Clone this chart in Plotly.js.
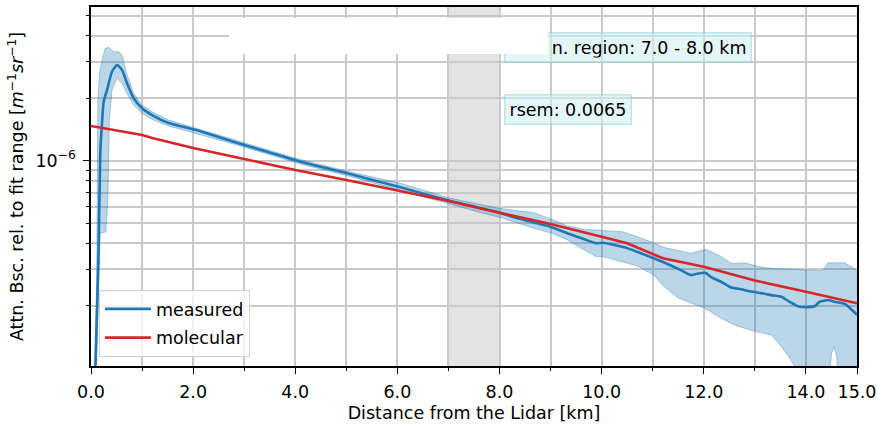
<!DOCTYPE html>
<html>
<head>
<meta charset="utf-8">
<script src="https://cdn.plot.ly/plotly-3.0.1.min.js"></script>
<style>html,body{margin:0;padding:0;background:#fff;}</style>
</head>
<body>
<div id="chart" style="width:878px;height:426px;"></div>
<script>
// ---- data (distance in km, attenuated backscatter in m^-1 sr^-1) ----
const measuredKm = [0.085,0.118,0.149,0.182,0.216,0.247,0.314,0.412,0.51,0.608,0.706,0.835,1.0,1.196,1.52,2.045,2.79,3.45,4.1,5.0,6.06,7.04,7.63,8.0,8.35,8.68,9.02,9.33,9.66,9.89,10.02,10.25,10.51,10.77,11.02,11.2,11.55,11.75,11.92,12.03,12.15,12.34,12.54,12.73,12.93,13.13,13.32,13.52,13.68,13.84,14.04,14.17,14.27,14.43,14.56,14.76,14.89,15.0];
const measured = [9.8e-8,1.91e-7,3.71e-7,1.10e-6,1.52e-6,1.92e-6,2.19e-6,2.69e-6,2.89e-6,2.74e-6,2.36e-6,2.00e-6,1.79e-6,1.66e-6,1.52e-6,1.41e-6,1.235e-6,1.105e-6,9.89e-7,8.72e-7,7.44e-7,6.39e-7,5.90e-7,5.62e-7,5.28e-7,5.03e-7,4.78e-7,4.47e-7,4.18e-7,4.00e-7,4.02e-7,3.92e-7,3.78e-7,3.58e-7,3.39e-7,3.25e-7,2.97e-7,2.81e-7,2.87e-7,2.88e-7,2.74e-7,2.61e-7,2.45e-7,2.40e-7,2.34e-7,2.30e-7,2.25e-7,2.21e-7,2.09e-7,1.99e-7,1.97e-7,1.99e-7,2.09e-7,2.13e-7,2.09e-7,2.04e-7,1.92e-7,1.81e-7];

const upperKm = [0.07,0.11,0.135,0.17,0.216,0.28,0.345,0.443,0.54,0.608,0.706,0.835,1.0,1.196,1.52,2.045,2.79,3.45,4.1,5.0,6.06,7.04,7.63,8.0,8.35,8.68,9.02,9.33,9.66,10.02,10.4,10.7,11.02,11.2,11.75,12.03,12.15,12.34,12.54,12.8,13.09,13.32,13.68,14.0,14.33,14.43,14.76,14.89,15.0];
const upper = [9.8e-8,2.6e-7,2.0e-6,2.7e-6,3.06e-6,3.48e-6,3.52e-6,3.35e-6,3.35e-6,3.23e-6,2.59e-6,2.11e-6,1.855e-6,1.72e-6,1.57e-6,1.44e-6,1.265e-6,1.13e-6,1.013e-6,8.92e-7,7.78e-7,6.59e-7,6.18e-7,5.90e-7,5.74e-7,5.62e-7,5.22e-7,4.85e-7,4.67e-7,4.63e-7,4.55e-7,4.30e-7,4.02e-7,3.83e-7,3.58e-7,3.74e-7,3.64e-7,3.45e-7,3.20e-7,3.22e-7,3.08e-7,3.03e-7,3.00e-7,2.97e-7,2.95e-7,3.22e-7,3.22e-7,3.08e-7,2.97e-7];

const lowerKm = [0.10,0.15,0.18,0.29,0.33,0.36,0.412,0.51,0.608,0.706,0.835,1.0,1.196,1.52,2.045,2.79,3.45,4.1,5.0,6.06,7.04,7.63,8.0,8.35,8.68,9.02,9.33,9.6,9.89,10.02,10.4,10.7,11.02,11.2,11.5,12.03,12.34,12.6,12.9,13.32,13.52,13.7,13.84,14.0,14.45,14.5,14.55,14.6,14.66,15.0];
const lower = [9e-8,2.13e-7,4.48e-7,4.53e-7,6.46e-7,1.57e-6,2.19e-6,2.50e-6,2.36e-6,2.11e-6,1.855e-6,1.69e-6,1.58e-6,1.47e-6,1.355e-6,1.204e-6,1.077e-6,9.64e-7,8.49e-7,7.17e-7,6.18e-7,5.62e-7,5.34e-7,4.99e-7,4.72e-7,4.47e-7,4.15e-7,3.78e-7,3.45e-7,3.45e-7,3.26e-7,3.11e-7,2.81e-7,2.50e-7,2.18e-7,1.94e-7,1.74e-7,1.615e-7,1.53e-7,1.445e-7,1.27e-7,1.10e-7,9.6e-8,8e-8,8e-8,1.18e-7,1.27e-7,1.14e-7,8e-8,8e-8];

const molecularKm = [0,1.0,1.2,2,3,4,5,6,7,8,9,10,10.5,11,11.2,12,13,14,15];
const molecular = [1.469e-6,1.33e-6,1.286e-6,1.151e-6,1.019e-6,9.02e-7,8.07e-7,7.18e-7,6.39e-7,5.615e-7,4.95e-7,4.30e-7,4.00e-7,3.55e-7,3.385e-7,3.084e-7,2.647e-7,2.337e-7,2.055e-7];

const normRegion = [7.0, 8.0];
const xTickVals = [0,2,4,6,8,10,12,14,15];
const xTickText = ['0.0','2.0','4.0','6.0','8.0','10.0','12.0','14.0','15.0'];
const xMinorVals = [1,3,5,7,9,11,13];
const yTickVals = [1e-6];
const yTickText = ['10<sup>\u22126</sup>'];
const yMinorVals = [2e-7,3e-7,4e-7,5e-7,6e-7,7e-7,8e-7,9e-7,2e-6,3e-6,4e-6,5e-6];
const normText = 'n. region: ' + normRegion[0].toFixed(1) + ' - ' + normRegion[1].toFixed(1) + ' km';
const rsemText = 'rsem: 0.0065';

const BLUE = '#1f77b4', RED = '#d62728';
const bandLine = 'rgba(31,119,180,0.35)';
const bandFill = 'rgba(31,119,180,0.30)';
const GRID = '#c9c9c9';
const FS = 17.5;

const traces = [
  {x: upperKm, y: upper, mode: 'lines', line: {color: bandLine, width: 1}, showlegend: false, hoverinfo: 'skip'},
  {x: lowerKm, y: lower, mode: 'lines', line: {color: bandLine, width: 1}, fill: 'tonexty', fillcolor: bandFill, showlegend: false, hoverinfo: 'skip'},
  {x: measuredKm, y: measured, mode: 'lines', name: 'measured', legendgroup: 'a',
   line: {color: BLUE, width: 2.6, shape: 'spline', smoothing: 0.5}},
  {x: molecularKm, y: molecular, mode: 'lines', name: 'molecular', legendgroup: 'b',
   line: {color: RED, width: 2.6}}
];

const boxStyle = {
  xref: 'paper', yref: 'paper', showarrow: false,
  xanchor: 'left', yanchor: 'top',
  bgcolor: 'rgba(205,240,244,0.55)', bordercolor: 'rgba(150,205,212,0.55)',
  borderwidth: 1.5, borderpad: 4,
  font: {family: 'DejaVu Sans', size: FS, color: '#000'}
};

const layout = {
  width: 878, height: 426,
  margin: {l: 91, r: 21, t: 7, b: 60},
  paper_bgcolor: '#fff', plot_bgcolor: '#fff',
  font: {family: 'DejaVu Sans', size: FS, color: '#000'},
  showlegend: true,
  legend: {
    x: 0.0104, y: 0.025, xanchor: 'left', yanchor: 'bottom',
    traceorder: 'grouped', tracegroupgap: 3, itemwidth: 46,
    bgcolor: 'rgba(255,255,255,0.8)', bordercolor: '#d0d0d0', borderwidth: 1,
    font: {family: 'DejaVu Sans', size: FS, color: '#000'}
  },
  xaxis: {
    range: [0, 15], tickmode: 'array', tickvals: xTickVals, ticktext: xTickText,
    ticks: 'outside', ticklen: 6, tickwidth: 1.4, tickcolor: '#000', ticklabelstandoff: 3,
    showgrid: true, gridcolor: GRID, gridwidth: 1.5, zeroline: false,
    showline: true, linecolor: '#000', linewidth: 1.5, mirror: true,
    minor: {tickmode: 'array', tickvals: xMinorVals, ticks: 'outside', ticklen: 3.5, tickcolor: '#000', showgrid: true, gridcolor: GRID, gridwidth: 1.5},
    title: {text: 'Distance from the Lidar [km]', standoff: 6, font: {size: FS}}
  },
  yaxis: {
    type: 'log', range: [-6.9894, -5.2593],
    tickmode: 'array', tickvals: yTickVals, ticktext: yTickText,
    ticks: 'outside', ticklen: 6, tickwidth: 1.4, tickcolor: '#000', ticklabelstandoff: 4,
    showgrid: true, gridcolor: GRID, gridwidth: 1.5, zeroline: false,
    showline: true, linecolor: '#000', linewidth: 1.5, mirror: true,
    minor: {tickmode: 'array', tickvals: yMinorVals, ticks: 'outside', ticklen: 3.5, tickcolor: '#000', showgrid: true, gridcolor: GRID, gridwidth: 1.5},
    title: {text: 'Attn. Bsc. rel. to fit range [<i>m</i><sup>\u22121</sup><i>sr</i><sup>\u22121</sup>]', standoff: 7, font: {size: FS}}
  },
  shapes: [
    {type: 'rect', xref: 'x', yref: 'paper', x0: normRegion[0], x1: normRegion[1], y0: 0, y1: 1,
     fillcolor: 'rgba(128,128,128,0.22)', line: {width: 0}, layer: 'below'}
  ],
  annotations: [
    Object.assign({}, boxStyle, {text: normText, x: 0.5392, y: 0.9312, width: 237, align: 'right'}),
    Object.assign({}, boxStyle, {text: rsemText, x: 0.5392, y: 0.7577}),
    {xref: 'paper', yref: 'paper', x: 0.1796, y: 0.9694, xanchor: 'left', yanchor: 'top',
     text: ' ', showarrow: false, width: 319, height: 36, bgcolor: '#ffffff', borderwidth: 0, borderpad: 0}
  ]
};

Plotly.newPlot('chart', traces, layout, {displayModeBar: false});
</script>
</body>
</html>
